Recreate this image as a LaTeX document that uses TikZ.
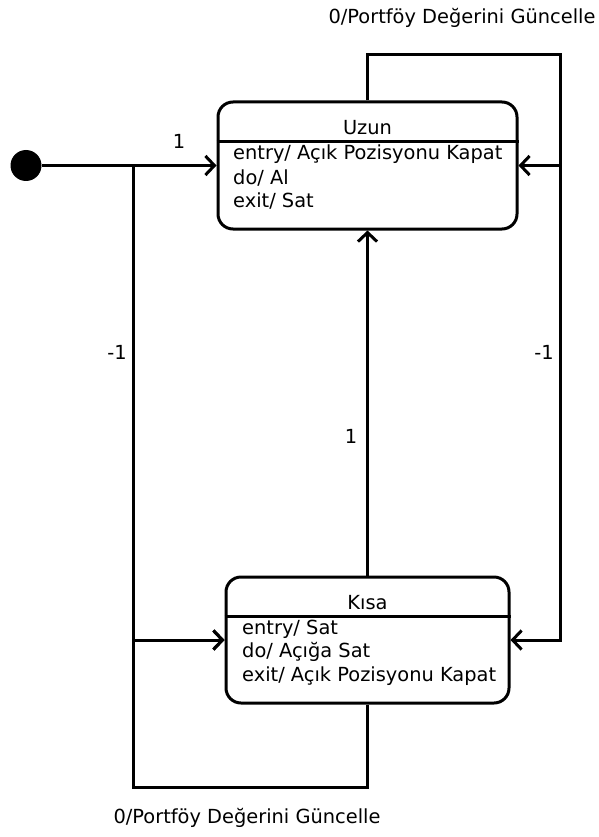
\documentclass[tikz,border=0pt]{standalone}
\usepackage{fontspec}
\setmainfont{DejaVu Sans}
\usetikzlibrary{arrows.meta}

\begin{document}
\begin{tikzpicture}[x=1pt,y=-1pt,>={Straight Barb[length=9pt,width=19pt]},
  every node/.style={font=\fontsize{19.4}{23}\selectfont,inner sep=0pt},
  state/.style={draw,line width=3pt,rounded corners=15pt},
  tr/.style={->,line width=3pt},
  satir/.style={anchor=base west}]
  \useasboundingbox (0,0) rectangle (599,837);
  \node[circle,fill,minimum size=31pt] (init) at (26,165.5) {};
  \node[state,minimum width=299pt,minimum height=127pt] (uzun) at (367.5,165.5) {};
  \node[state,minimum width=283pt,minimum height=126pt] (kisa) at (367.5,640) {};
  \draw[line width=3pt] (uzun.west |- 0,142) -- (uzun.east |- 0,142);
  \draw[line width=3pt] (kisa.west |- 0,616) -- (kisa.east |- 0,616);
  \node[anchor=base] (uzunad) at (367.5,135) {Uzun};
  \node[satir] (uzun1) at (233,160) {entry/ Açık Pozisyonu Kapat};
  \node[satir] (uzun2) at (233,184) {do/ Al};
  \node[satir] (uzun3) at (233,207.5) {exit/ Sat};
  \node[anchor=base] (kisaad) at (367.5,609) {Kısa};
  \node[satir] (kisa1) at (242,634) {entry/ Sat};
  \node[satir] (kisa2) at (242,657.5) {do/ Açığa Sat};
  \node[satir] (kisa3) at (242,681.5) {exit/ Açık Pozisyonu Kapat};
  \coordinate (sol) at (133,165.5);
  \coordinate (sag) at (560,165.5);
  \coordinate (ust) at (367.5,55);
  \coordinate (alt) at (367.5,787);
  \draw[tr] (init) -- (uzun.west);
  \draw[tr] (sol) |- (kisa.west);
  \draw[tr] (kisa.south) -- (alt) -| (sol |- kisa.west) -- (kisa.west);
  \draw[tr] (uzun.north) -- (ust) -| (sag) -- (uzun.east);
  \draw[tr] (sag) |- (kisa.east);
  \draw[tr] (kisa.north) -- (uzun.south);
  \node (l1) at (179,141) {1};
  \node (l2) at (117,352) {-1};
  \node (l3) at (544,352) {-1};
  \node (l4) at (351,436) {1};
  \node (ustetiket) at (462,18) {0/Portföy Değerini Güncelle};
  \node (altetiket) at (247,818) {0/Portföy Değerini Güncelle};
\end{tikzpicture}
\end{document}
